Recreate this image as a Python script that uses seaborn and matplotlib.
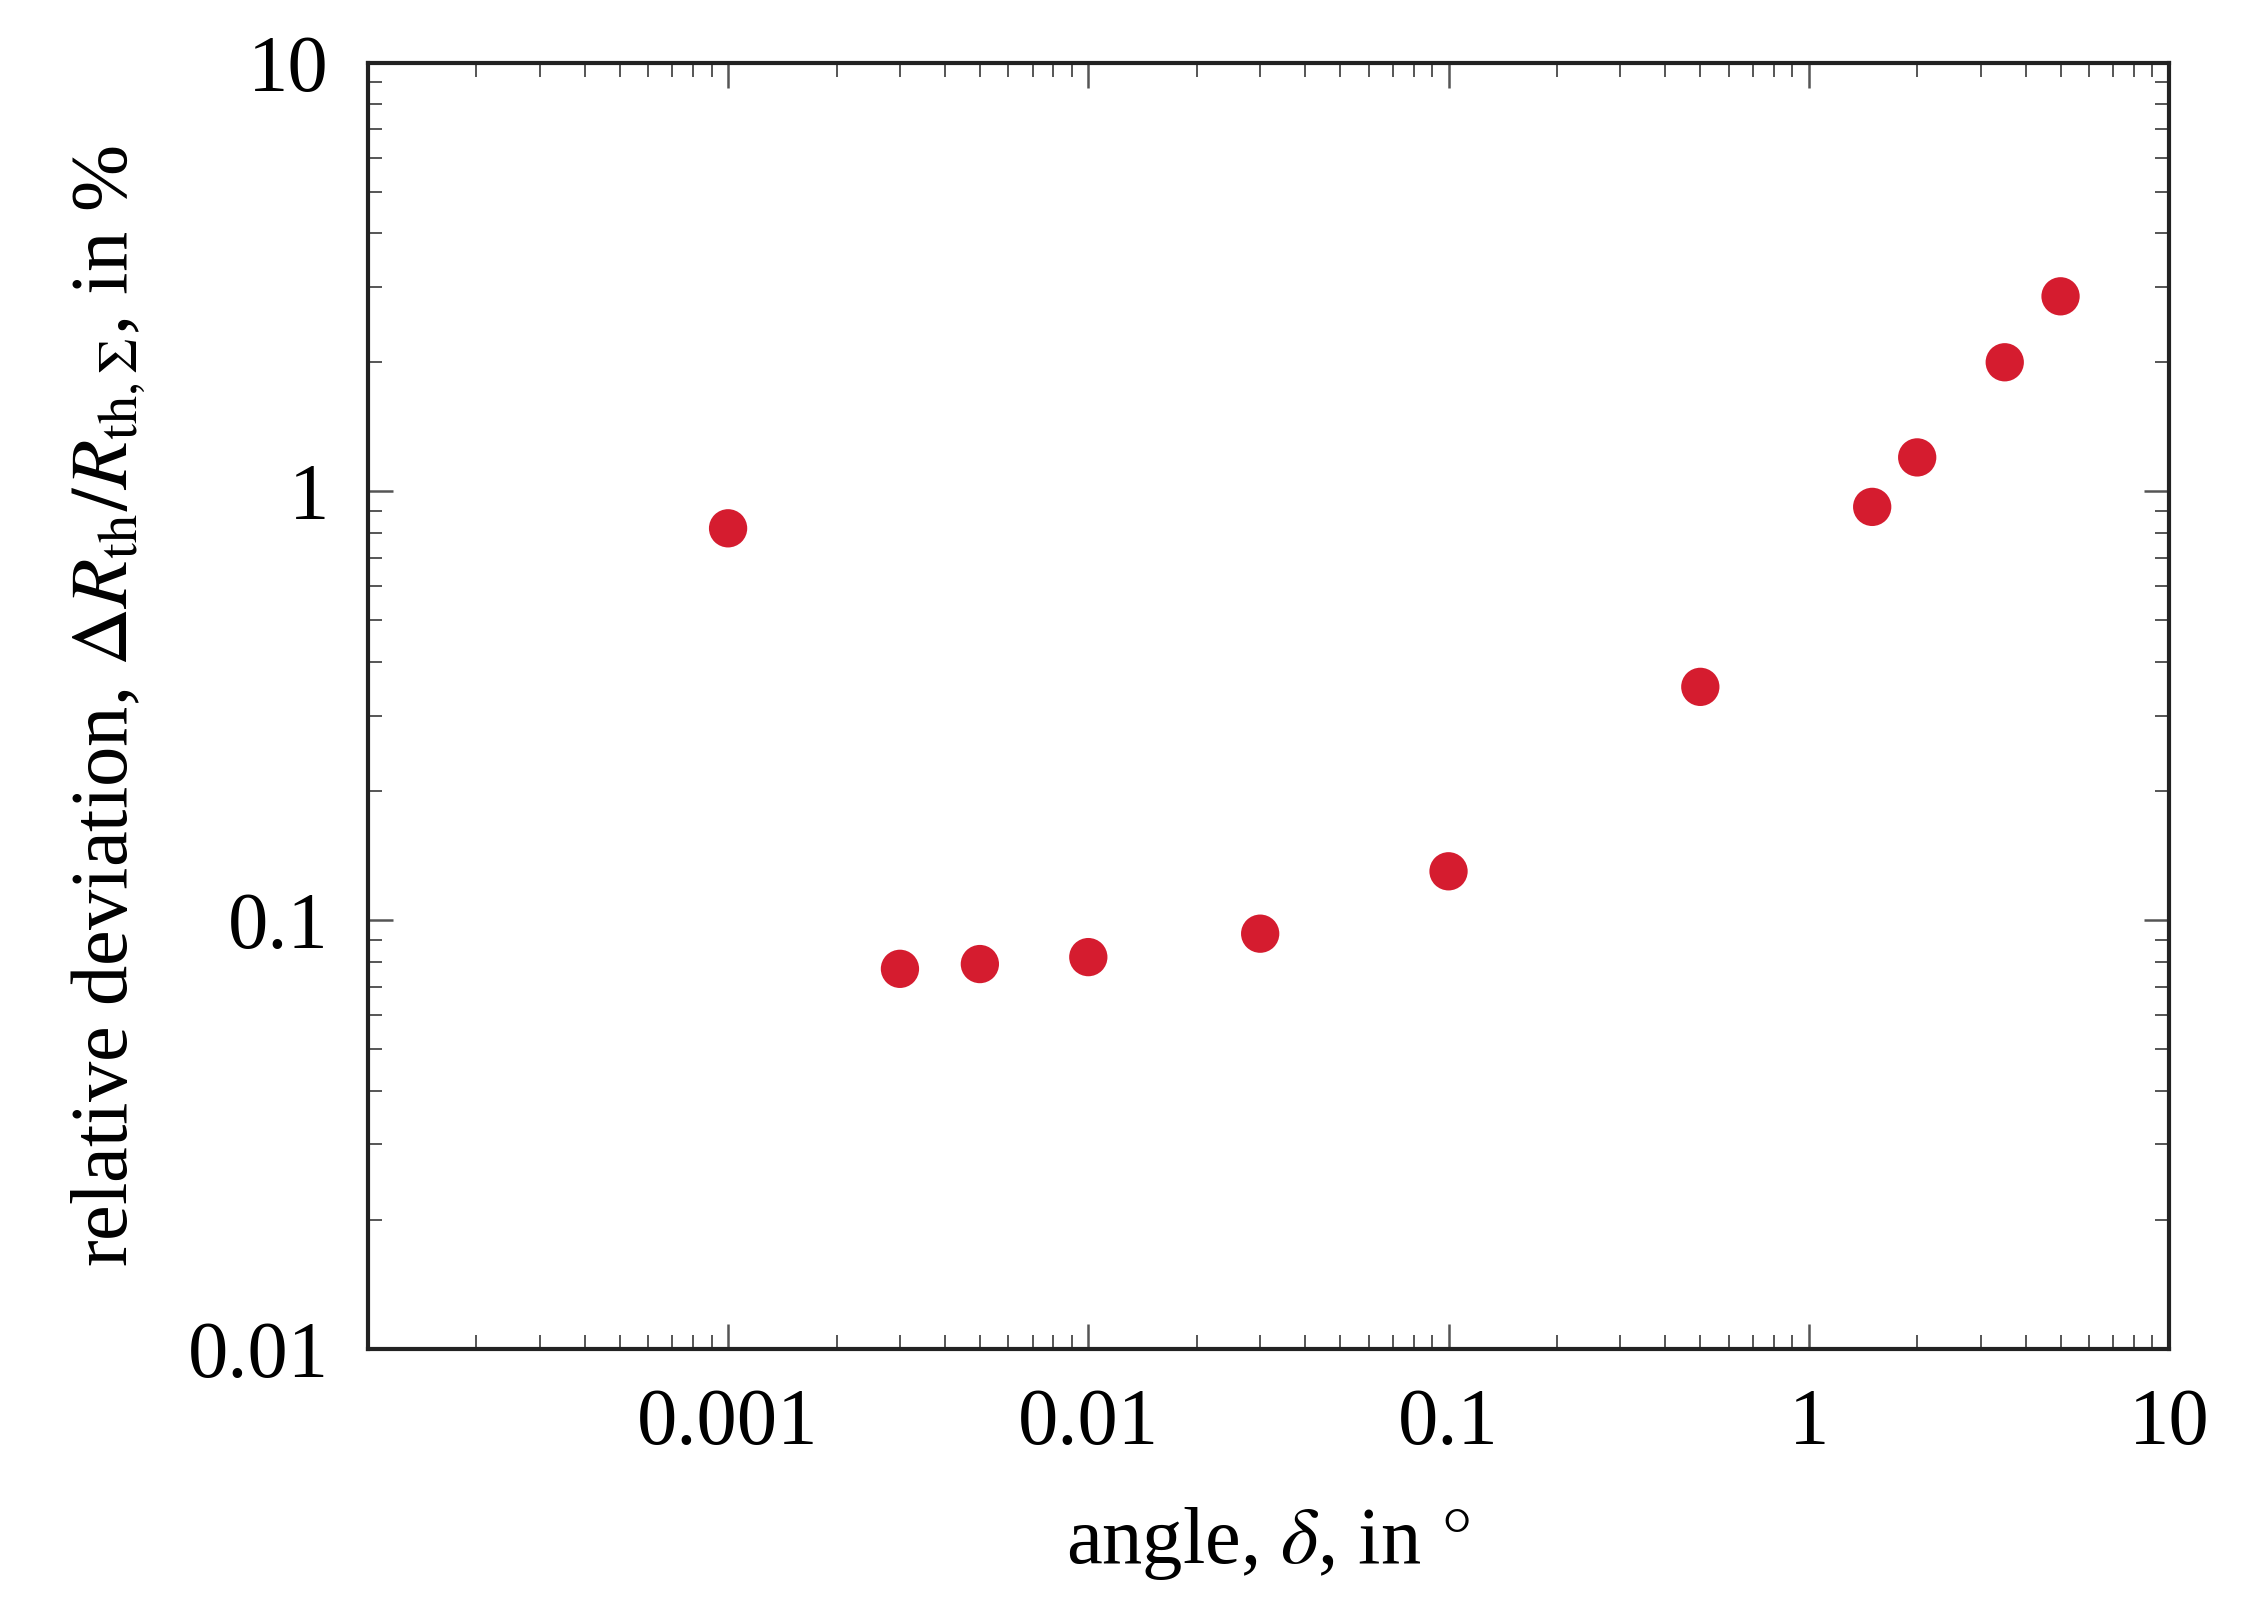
import matplotlib
matplotlib.use("Agg")
import matplotlib.pyplot as plt
import seaborn as sns
import pandas as pd

angle = [0.001, 0.003, 0.005, 0.01, 0.03, 0.1, 0.5, 1.5, 2.0, 3.5, 5.0]
deviation = [0.82, 0.077, 0.079, 0.082, 0.093, 0.13, 0.35, 0.92, 1.2, 2.0, 2.85]
xticks = [0.001, 0.01, 0.1, 1, 10]
xticklabels = ["0.001", "0.01", "0.1", "1", "10"]
yticks = [0.01, 0.1, 1, 10]
yticklabels = ["0.01", "0.1", "1", "10"]

sns.set_theme(style="ticks")
plt.rcParams["font.family"] = ["Liberation Serif", "DejaVu Serif"]
plt.rcParams["mathtext.fontset"] = "stix"
plt.rcParams["text.color"] = "black"
plt.rcParams["axes.labelcolor"] = "black"

df = pd.DataFrame({"angle": angle, "dev": deviation})
fig = plt.figure(figsize=(11.215, 8.02), dpi=200)
ax = fig.add_axes([0.164, 0.159, 0.803, 0.802])
sns.scatterplot(data=df, x="angle", y="dev", ax=ax, color="#d51c2f", s=190, edgecolor="none", zorder=3)
ax.set_xscale("log"); ax.set_yscale("log")
ax.set_xlim(1e-4, 10); ax.set_ylim(0.01, 10)
ax.set_xticks(xticks); ax.set_xticklabels(xticklabels)
ax.set_yticks(yticks); ax.set_yticklabels(yticklabels)
ax.tick_params(which="both", direction="in", top=True, right=True, colors="#555555", labelcolor="black", labelsize=29, pad=14)
ax.tick_params(which="major", length=9, width=0.9)
ax.tick_params(which="minor", length=5, width=0.7)
for s in ax.spines.values():
    s.set_linewidth(1.5); s.set_color("#222222")
ax.set_xlabel(r"angle, $\delta$, in $\degree$", fontsize=29, labelpad=16)
ax.set_ylabel(r"relative deviation, $\Delta R_{\rm th}/R_{\rm th,\Sigma}$, in %", fontsize=29, labelpad=14)
fig.savefig("out.png", dpi=200)
